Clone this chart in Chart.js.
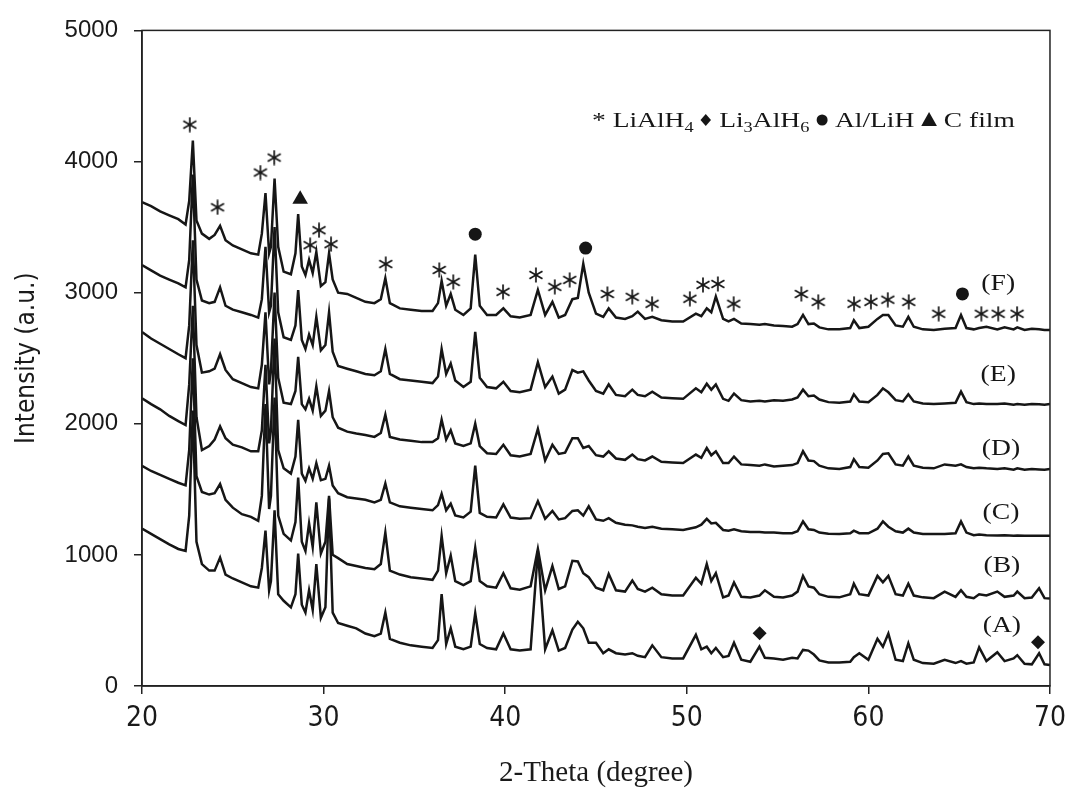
<!DOCTYPE html>
<html><head><meta charset="utf-8">
<script src="https://cdn.jsdelivr.net/npm/chart.js@4.4.1/dist/chart.umd.min.js"></script>
<style>html,body{margin:0;padding:0;background:#fff;}#wrap{width:1074px;height:791px;}</style>
</head><body><div id="wrap"><canvas id="c" width="1074" height="791"></canvas></div>
<script>
// 2-theta sampling positions (degree)
const twoTheta = [
20.0,20.5,21.0,21.5,22.0,22.4,22.6,22.8,23.0,23.3,
23.7,24.0,24.3,24.6,25.0,25.5,26.0,26.4,26.6,26.8,
27.0,27.1,27.3,27.5,27.8,28.2,28.45,28.6,28.8,29.0,
29.2,29.4,29.6,29.85,30.1,30.3,30.5,30.8,31.3,31.8,
32.3,32.8,33.15,33.4,33.65,34.2,34.8,35.4,36.0,36.3,
36.5,36.75,37.0,37.25,37.7,38.1,38.35,38.6,39.0,39.5,
39.9,40.3,40.8,41.4,41.8,42.2,42.6,42.95,43.3,43.7,
44.0,44.3,44.6,45.0,45.4,45.7,46.1,46.6,47.0,47.3,
47.7,48.1,48.6,49.2,49.8,50.5,50.8,51.1,51.35,51.6,
52.0,52.3,52.6,53.0,53.5,54.0,54.3,54.8,55.3,55.8,
56.1,56.4,56.7,57.0,57.3,57.8,58.4,59.0,59.2,59.5,
60.0,60.5,60.8,61.1,61.5,61.9,62.2,62.5,63.0,63.6,
64.2,64.8,65.1,65.4,65.8,66.1,66.5,67.1,67.5,68.0,
68.2,68.6,69.0,69.4,69.7,70.0];

const seriesF = [
3690,3660,3620,3590,3560,3520,3700,4160,3550,3450,
3410,3440,3510,3400,3360,3330,3300,3290,3450,3760,
3300,3350,3870,3350,3160,3140,3300,3600,3200,3135,
3250,3150,3310,3050,3080,3300,3100,3000,2990,2960,
2930,2920,2950,3110,2920,2880,2870,2860,2860,2920,
3090,2900,2990,2870,2830,2880,3290,2900,2830,2830,
2880,2820,2810,2830,3020,2830,2930,2810,2830,2950,
2960,3220,3000,2840,2815,2880,2810,2800,2820,2855,
2800,2815,2790,2780,2780,2840,2820,2880,2850,2970,
2800,2780,2800,2765,2760,2755,2760,2750,2745,2740,
2760,2830,2760,2765,2735,2720,2720,2730,2790,2730,
2740,2800,2830,2830,2750,2740,2815,2740,2720,2715,
2725,2730,2830,2730,2720,2730,2740,2720,2735,2720,
2735,2715,2725,2720,2715,2715];

const seriesE = [
3210,3170,3130,3100,3070,3040,3250,3900,3100,2940,
2920,2930,3040,2900,2870,2850,2830,2810,2950,3350,
2850,2900,3500,2850,2660,2640,2750,3020,2640,2570,
2680,2600,2815,2560,2600,2850,2550,2440,2420,2400,
2380,2370,2400,2570,2380,2340,2330,2320,2310,2360,
2570,2380,2460,2330,2280,2320,2700,2350,2280,2270,
2320,2250,2240,2260,2470,2280,2360,2230,2260,2410,
2390,2400,2330,2250,2230,2300,2220,2210,2260,2220,
2210,2245,2200,2195,2190,2270,2240,2305,2260,2300,
2190,2175,2230,2180,2170,2175,2170,2180,2175,2185,
2200,2260,2210,2215,2185,2165,2160,2170,2225,2170,
2165,2220,2270,2240,2180,2170,2225,2170,2155,2150,
2155,2160,2245,2165,2150,2155,2150,2150,2155,2145,
2150,2145,2150,2148,2145,2150];

const seriesD = [
2700,2650,2610,2570,2530,2500,2750,3400,2600,2390,
2400,2420,2530,2410,2340,2310,2280,2270,2450,2850,
2300,2400,3000,2350,2160,2150,2250,2510,2150,2110,
2190,2100,2285,2060,2100,2250,2050,1970,1940,1925,
1915,1900,1930,2070,1900,1880,1870,1860,1860,1890,
2030,1880,1950,1850,1830,1850,2000,1830,1775,1770,
1840,1760,1750,1770,1960,1720,1840,1770,1780,1890,
1890,1815,1830,1760,1750,1790,1735,1725,1765,1730,
1720,1750,1710,1705,1700,1765,1740,1815,1760,1790,
1700,1700,1750,1690,1685,1680,1690,1675,1680,1685,
1700,1790,1720,1715,1680,1660,1655,1670,1730,1670,
1665,1720,1770,1775,1690,1680,1750,1680,1665,1660,
1690,1680,1690,1670,1660,1665,1660,1655,1660,1650,
1660,1650,1655,1652,1650,1655];

const seriesC = [
2195,2150,2110,2060,2020,1990,2300,2900,2050,1800,
1830,1880,1980,1890,1840,1820,1790,1790,1950,2450,
1850,1950,2650,1800,1660,1620,1750,2030,1620,1565,
1660,1580,1700,1570,1580,1680,1530,1470,1440,1430,
1420,1400,1420,1545,1400,1370,1360,1350,1340,1380,
1465,1340,1390,1300,1285,1330,1680,1320,1290,1285,
1385,1285,1275,1280,1410,1275,1335,1270,1280,1335,
1340,1300,1370,1270,1260,1280,1245,1230,1225,1215,
1205,1215,1200,1195,1190,1210,1230,1275,1240,1245,
1190,1185,1195,1180,1175,1175,1170,1170,1165,1165,
1180,1255,1195,1190,1170,1162,1160,1165,1185,1165,
1165,1200,1255,1215,1180,1170,1200,1170,1160,1160,
1160,1165,1255,1170,1150,1155,1150,1148,1150,1145,
1148,1145,1146,1146,1145,1146];

const seriesB = [
1680,1640,1610,1580,1550,1530,1800,2500,1600,1480,
1460,1470,1540,1420,1360,1310,1290,1260,1450,2150,
1350,1450,2200,1300,1160,1110,1250,1590,1100,1030,
1240,1060,1400,1010,1100,1450,1000,975,930,915,
900,890,930,1170,880,850,830,820,810,880,
1145,860,995,800,770,800,1055,800,760,750,
860,745,735,760,1045,730,915,740,760,955,
950,860,830,750,730,855,730,720,805,740,
720,750,700,690,690,825,780,930,800,860,
675,690,790,680,675,690,730,680,675,690,
720,840,760,750,700,680,676,700,780,700,
690,840,790,840,700,690,780,690,676,670,
720,680,730,680,670,700,690,720,680,690,
720,670,675,745,670,668];

const seriesA = [
1200,1160,1120,1080,1045,1030,1300,2100,1100,930,
880,880,980,850,820,790,760,750,900,1185,
730,800,1340,700,650,600,700,1010,620,560,
730,580,930,520,600,1430,560,480,460,440,
400,380,400,560,360,330,310,300,290,350,
700,320,440,300,280,300,555,320,290,280,
400,280,270,280,1030,280,425,270,290,430,
490,440,330,330,250,280,250,240,250,230,
220,310,220,210,210,390,280,300,250,290,
220,230,330,200,185,300,215,210,200,215,
210,275,270,240,195,180,180,185,220,250,
200,360,300,400,200,190,325,200,175,170,
200,175,190,170,180,295,190,258,190,210,
235,170,165,250,165,160];

// phase markers
const starX = [22.63,24.16,26.52,27.28,29.26,29.75,30.41,33.42,36.37,37.14,39.88,41.69,42.73,43.55,45.63,47.0,48.09,50.17,50.89,51.71,52.58,56.31,57.24,59.21,60.14,61.07,62.22,63.87,66.22,67.15,68.19];
const starY = [4281,3651,3916,4030,3362,3476,3370,3218,3173,3082,3006,3135,3044,3097,2990,2968,2915,2953,3059,3066,2915,2990,2930,2915,2930,2946,2930,2839,2839,2839,2839];
const diamondX = [54.01,69.34];
const diamondY = [402,334];
const dotX = [38.35,44.43,65.18];
const dotY = [3446,3340,2990];
const triangleX = [28.71];
const triangleY = [3712];

// sample labels
const sampleNames = ['(F)','(E)','(D)','(C)','(B)','(A)'];
const sampleLabelX = [67.15,67.15,67.3,67.3,67.35,67.35];
const sampleLabelY = [3066,2376,1806,1321,918,463];

const xTicks = [20,30,40,50,60,70];
const yTicks = [0,1000,2000,3000,4000,5000];

const INK = '#161616';
const serif = '"Liberation Serif","Times New Roman",serif';
const narrow = '"Liberation Sans Narrow","DejaVu Sans Condensed","Liberation Sans",sans-serif';

function pts(ys){ return twoTheta.map((x,i)=>({x:x,y:ys[i]})); }
function mk(xs,ys){ return xs.map((x,i)=>({x:x,y:ys[i]})); }

function makeAsterisk(size, lw){
  const c = document.createElement('canvas');
  c.width = size; c.height = size;
  const g = c.getContext('2d');
  g.strokeStyle = INK; g.lineWidth = lw; g.lineCap = 'butt';
  const r = size/2 - 0.5, cx = size/2, cy = size/2;
  for (let k=0;k<3;k++){
    const a = Math.PI/2 + k*Math.PI/3;
    g.beginPath();
    g.moveTo(cx - r*Math.cos(a), cy - r*Math.sin(a));
    g.lineTo(cx + r*Math.cos(a), cy + r*Math.sin(a));
    g.stroke();
  }
  return c;
}
const asterisk = makeAsterisk(16, 1.7);

const lineDs = (ys)=>({type:'line', data:pts(ys), borderColor:INK, borderWidth:2.5, pointRadius:0, tension:0, fill:false, order:2});

const framePlugin = {
  id:'frame',
  afterDraw(chart){
    const {ctx, chartArea:a} = chart;
    ctx.save();
    ctx.strokeStyle = '#222'; ctx.lineWidth = 1.5;
    ctx.strokeRect(a.left, a.top, a.right-a.left, a.bottom-a.top);
    ctx.restore();
  }
};

const textPlugin = {
  id:'texts',
  afterDraw(chart){
    const ctx = chart.ctx, xs = chart.scales.x, ys = chart.scales.y;
    ctx.save();
    ctx.fillStyle = INK;
    ctx.textAlign = 'center'; ctx.textBaseline = 'middle';
    sampleNames.forEach((t,i)=>{
      const px = xs.getPixelForValue(sampleLabelX[i]), py = ys.getPixelForValue(sampleLabelY[i]);
      ctx.save(); ctx.translate(px,py); ctx.scale(1.15,1);
      ctx.font = '24px '+serif; ctx.fillText(t,0,0); ctx.restore();
    });
    const sx = 1.31, fs = 21;
    ctx.save();
    ctx.translate(592, 127); ctx.scale(sx,1);
    ctx.textAlign = 'left'; ctx.textBaseline = 'alphabetic';
    let cx = 0;
    const main = fs+'px '+serif, sub = '14px '+serif;
    const txt = (t,f,dy)=>{ ctx.font=f; ctx.fillText(t,cx,dy||0); cx += ctx.measureText(t).width; };
    txt('* LiAlH',main); txt('4',sub,5); txt(' ',main);
    ctx.beginPath(); ctx.moveTo(cx+4,-13); ctx.lineTo(cx+8,-7); ctx.lineTo(cx+4,-1); ctx.lineTo(cx,-7); ctx.closePath(); ctx.fill();
    cx += 9; txt(' Li',main); txt('3',sub,5); txt('AlH',main); txt('6',sub,5); txt(' ',main);
    ctx.save(); ctx.translate(cx+4.5,-7); ctx.scale(1/sx,1); ctx.beginPath(); ctx.arc(0,0,5.5,0,Math.PI*2); ctx.fill(); ctx.restore();
    cx += 9; txt(' Al/LiH ',main);
    ctx.beginPath(); ctx.moveTo(cx+6,-15); ctx.lineTo(cx+12,-1); ctx.lineTo(cx,-1); ctx.closePath(); ctx.fill();
    cx += 12; txt(' C film',main);
    ctx.restore();
    ctx.restore();
  }
};

new Chart(document.getElementById('c'), {
  data:{ datasets:[
    lineDs(seriesF), lineDs(seriesE), lineDs(seriesD), lineDs(seriesC), lineDs(seriesB), lineDs(seriesA),
    {type:'scatter', data:mk(starX,starY), pointStyle:asterisk, pointRadius:8, order:1},
    {type:'scatter', data:mk(diamondX,diamondY), pointStyle:'rectRot', pointRadius:7, backgroundColor:INK, borderColor:INK, borderWidth:0, order:1},
    {type:'scatter', data:mk(dotX,dotY), pointStyle:'circle', pointRadius:6.5, backgroundColor:INK, borderColor:INK, borderWidth:0, order:1},
    {type:'scatter', data:mk(triangleX,triangleY), pointStyle:'triangle', pointRadius:9, backgroundColor:INK, borderColor:INK, borderWidth:0, order:1}
  ]},
  options:{
    responsive:false, animation:false, devicePixelRatio:1,
    layout:{padding:{left:0,right:19,top:27,bottom:0}},
    plugins:{legend:{display:false}, tooltip:{enabled:false}},
    scales:{
      x:{type:'linear', min:20, max:70,
        afterFit(s){ s.height = 105; },
        afterBuildTicks(s){ s.ticks = xTicks.map(v=>({value:v})); },
        grid:{drawOnChartArea:false, drawTicks:true, tickLength:8, color:'#222', lineWidth:1.5},
        border:{display:true, color:'#222', width:1.5},
        ticks:{font:{family:narrow, size:28}, color:'#1a1a1a', padding:8, maxRotation:0, callback:(v)=>String(v)},
        title:{display:true, text:'2-Theta (degree)', font:{family:serif, size:29}, color:'#1a1a1a', padding:{top:0,bottom:0}}
      },
      y:{type:'linear', min:0, max:5000,
        afterFit(s){ s.width = 142; },
        afterBuildTicks(s){ s.ticks = yTicks.map(v=>({value:v})); },
        grid:{drawOnChartArea:false, drawTicks:true, tickLength:8, color:'#222', lineWidth:1.5},
        border:{display:true, color:'#222', width:1.5},
        ticks:{font:{family:'"Liberation Sans",Arial,sans-serif', size:24}, color:'#1a1a1a', padding:16, callback:(v)=>String(v)},
        title:{display:true, text:'Intensity (a.u.)', font:{family:narrow, size:26}, color:'#1a1a1a', padding:{top:12,bottom:0}}
      }
    }
  },
  plugins:[framePlugin, textPlugin]
});
</script></body></html>
